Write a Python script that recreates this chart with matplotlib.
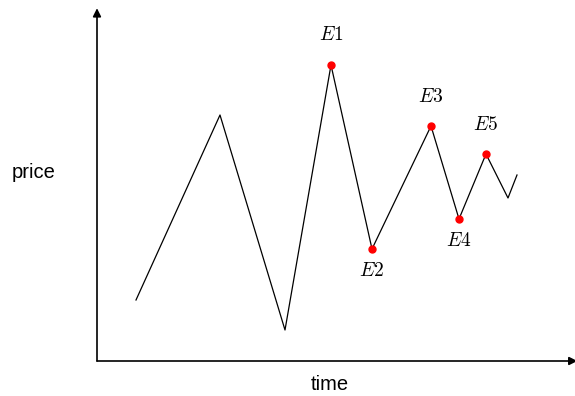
import matplotlib
matplotlib.use("Agg")
import matplotlib.pyplot as plt

# === данные (время / цена, условные единицы) ===
time = [39, 123, 188, 234, 275, 334, 362, 389, 411, 420]
price = [61, 246, 31, 296, 112, 235, 142, 207, 163, 186]

# экстремумы E1..E5: индексы точек и положение подписи
ext_idx = [3, 4, 5, 6, 7]
ext_labels = ["E1", "E2", "E3", "E4", "E5"]
ext_above = [True, False, True, False, True]

fig = plt.figure(figsize=(5.75, 3.96), dpi=100)
ax = fig.add_axes([97 / 575, 35 / 396, 478 / 575, 351 / 396])
ax.set_xlim(0, 478)
ax.set_ylim(0, 351)

ax.plot(time, price, color="black", lw=0.9)
ax.plot([time[i] for i in ext_idx], [price[i] for i in ext_idx], "o",
        color="red", markersize=5, zorder=3)

plt.rcParams["mathtext.fontset"] = "cm"
for i, lab, up in zip(ext_idx, ext_labels, ext_above):
    dy = 30 if up else -21
    ax.annotate(r"$\mathit{%s}$" % lab, (time[i], price[i]),
                xytext=(0, dy), textcoords="offset pixels",
                ha="center", va="center", fontsize=14)

# оси со стрелками
for s in ax.spines.values():
    s.set_visible(False)
ax.set_xticks([])
ax.set_yticks([])
ax.annotate("", xy=(0, 1.005), xytext=(0, 0), xycoords="axes fraction",
            arrowprops=dict(arrowstyle="-|>", color="black", lw=1.2,
                            mutation_scale=12, shrinkA=0, shrinkB=0))
ax.annotate("", xy=(1.005, 0), xytext=(0, 0), xycoords="axes fraction",
            arrowprops=dict(arrowstyle="-|>", color="black", lw=1.2,
                            mutation_scale=12, shrinkA=0, shrinkB=0),
            annotation_clip=False)

fig.text(34 / 575, 1 - 172 / 396, "price", ha="center", va="center",
         fontsize=14.5, family="Liberation Sans")
fig.text(330 / 575, 1 - 384 / 396, "time", ha="center", va="center",
         fontsize=14.5, family="Liberation Sans")

fig.savefig("out.png", dpi=100)
